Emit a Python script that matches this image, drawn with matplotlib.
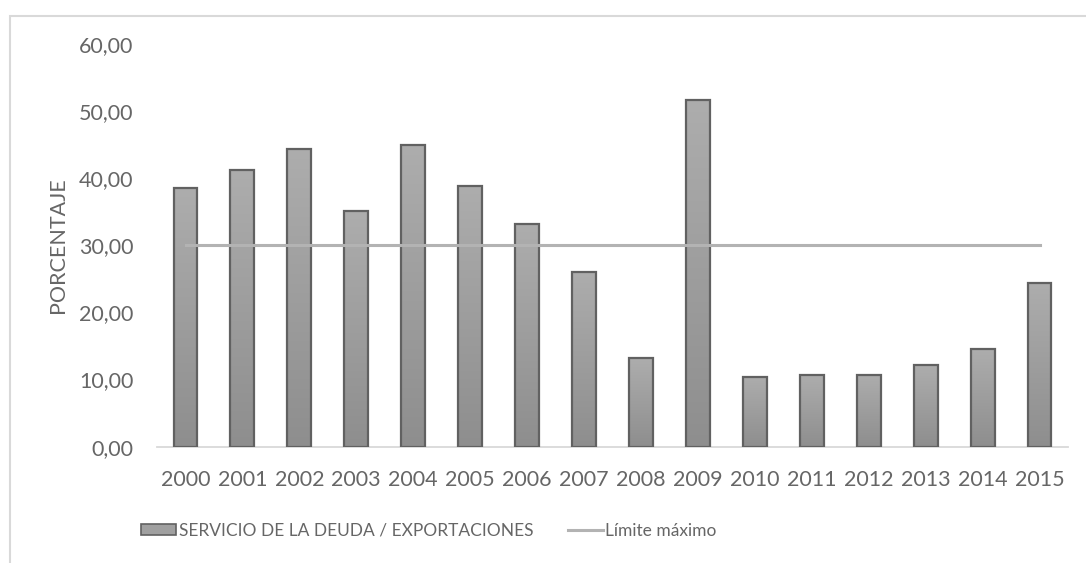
import numpy as np
import matplotlib
matplotlib.use("Agg")
import matplotlib.pyplot as plt
from matplotlib.colors import LinearSegmentedColormap
from matplotlib.patches import Patch, Rectangle
from matplotlib.lines import Line2D

years = ["2000", "2001", "2002", "2003", "2004", "2005", "2006", "2007",
         "2008", "2009", "2010", "2011", "2012", "2013", "2014", "2015"]
ratio = [38.5, 41.3, 44.3, 35.1, 44.9, 38.9, 33.2, 26.1,
         13.2, 51.6, 10.45, 10.65, 10.75, 12.2, 14.6, 24.4]
limit = [30.0] * len(years)
yticks = [0, 10, 20, 30, 40, 50, 60]

txt = "#666666"
fs = 15.5
plt.rcParams["font.family"] = ["Lato", "DejaVu Sans"]

fig = plt.figure(figsize=(10.86, 5.63), dpi=100)
ax = fig.add_axes([0.1446, 0.2066, 0.8388, 0.7152])

# light border of the chart area (only top and left are visible)
fig.patches.append(Rectangle((9.5 / 1086, -0.2), 1.2, 1.2 - 15.5 / 563,
                             transform=fig.transFigure, fill=False,
                             edgecolor="#d9d9d9", linewidth=1.5))

x = np.arange(len(years))
bars = ax.bar(x, ratio, width=0.42, color="none", edgecolor="#616161",
              linewidth=1.6, zorder=3)

grad = np.linspace(0, 1, 256).reshape(-1, 1)
cmap = LinearSegmentedColormap.from_list("g", ["#8e8e8e", "#adadad"])
for b in bars:
    x0, y0 = b.get_xy()
    im = ax.imshow(grad, cmap=cmap, origin="lower", aspect="auto", zorder=2,
                   extent=[x0, x0 + b.get_width(), y0, y0 + b.get_height()])
    im.set_clip_path(b)

ax.plot(x, limit, color="#b3b3b3", linewidth=2.2, zorder=4)

ax.set_xlim(-0.5, len(years) - 0.5)
ax.set_ylim(0, 60)
ax.set_xticks(x)
ax.set_xticklabels(years)
ax.set_yticks(yticks)
ax.set_yticklabels([f"{v:.2f}".replace(".", ",") for v in yticks])
ax.tick_params(axis="both", length=0, labelsize=fs, colors=txt)
ax.tick_params(axis="y", pad=17)
ax.tick_params(axis="x", pad=17)

for s in ["top", "right", "left"]:
    ax.spines[s].set_visible(False)
ax.spines["bottom"].set_color("#d9d9d9")
ax.spines["bottom"].set_linewidth(1.3)

ax.set_ylabel("PORCENTAJE", fontsize=fs, color=txt, labelpad=8)

# legend font is smaller: the original condensed face is much narrower
handles = [Patch(facecolor="#a0a0a0", edgecolor="#616161", linewidth=1.2),
           Line2D([0], [0], color="#b3b3b3", linewidth=2.2)]
labels = ["SERVICIO DE LA DEUDA / EXPORTACIONES", "Límite máximo"]
leg = fig.legend(handles, labels, loc="center", bbox_to_anchor=(0.395, 1 - 531 / 563),
                 ncol=2, frameon=False, fontsize=12.5, handlelength=2.0,
                 handleheight=0.6, handletextpad=0.15, columnspacing=2.0)
for t in leg.get_texts():
    t.set_color(txt)

fig.savefig("out.png", dpi=100)
